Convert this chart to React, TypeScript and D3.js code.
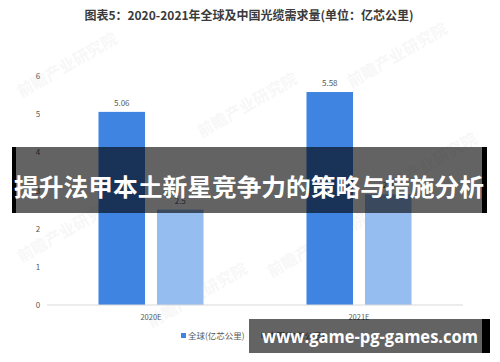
import * as React from 'react';
import * as d3 from 'd3';

// data
const categories = ['2020E', '2021E'];
const globalValues = [5.06, 5.58];
const chinaValues = [2.5, 2.9];
const seriesNames = ['全球(亿芯公里)', '中国(亿芯公里)'];
const yTicks = [0, 1, 2, 3, 4, 5, 6];

const title = '图表5：2020-2021年全球及中国光缆需求量(单位：亿芯公里)';
const bannerText = '提升法甲本土新星竞争力的策略与措施分析';
const siteText = 'www.game-pg-games.com';

const width = 500;
const height = 362;
const margin = { top: 76, right: 37, bottom: 57, left: 47 };

const colors = ['#3f84e1', '#95bdf0'];
const font = '"Noto Sans CJK SC", "Noto Sans", sans-serif';

const App = () => {
  const x0 = d3
    .scaleBand<string>()
    .domain(categories)
    .range([margin.left, width - margin.right])
    .paddingInner(0)
    .paddingOuter(0);

  const x1 = d3
    .scaleBand<string>()
    .domain(seriesNames)
    .range([0, x0.bandwidth()])
    .paddingInner(0.205)
    .paddingOuter(0.88);

  const y = d3
    .scaleLinear()
    .domain([0, 6])
    .range([height - margin.bottom, margin.top]);

  const series = [globalValues, chinaValues];

  return (
    <div style={{ position: 'absolute', left: 0, top: 0 }}>
      <svg width={width} height={height} style={{ display: 'block', background: '#fff' }}>
        <text
          x={249}
          y={20}
          textAnchor="middle"
          fontFamily={font}
          fontWeight="bold"
          fontSize={12}
          fill="#3a3a3a"
        >
          {title}
        </text>

        {/* faint watermarks */}
        {[
          [70, 70],
          [250, 110],
          [400, 60],
          [70, 235],
          [320, 250],
          [430, 170],
          [200, 300],
        ].map(([wx, wy], i) => (
          <text
            key={i}
            transform={`translate(${wx},${wy}) rotate(-30)`}
            textAnchor="middle"
            fontFamily={font}
            fontWeight="bold"
            fontSize={16}
            fill="#000"
            opacity={0.028}
          >
            前瞻产业研究院
          </text>
        ))}

        {/* y axis labels */}
        {yTicks.map((t) => (
          <text
            key={t}
            x={38}
            y={y(t) + 3}
            textAnchor="middle"
            fontFamily={font}
            fontSize={8}
            fill="#595959"
          >
            {t}
          </text>
        ))}

        {/* bars */}
        {categories.map((c, ci) => (
          <g key={c} transform={`translate(${x0(c)},0)`}>
            {series.map((vals, si) => (
              <g key={si}>
                <rect
                  x={x1(seriesNames[si])}
                  y={y(vals[ci])}
                  width={x1.bandwidth()}
                  height={y(0) - y(vals[ci])}
                  fill={colors[si]}
                />
                <text
                  x={(x1(seriesNames[si]) as number) + x1.bandwidth() / 2}
                  y={y(vals[ci]) - 6}
                  textAnchor="middle"
                  fontFamily={font}
                  fontSize={8}
                  fill="#595959"
                >
                  {vals[ci]}
                </text>
              </g>
            ))}
            <text
              x={x0.bandwidth() / 2}
              y={y(0) + 15}
              textAnchor="middle"
              fontFamily={font}
              fontSize={7.5}
              fill="#595959"
            >
              {c}
            </text>
          </g>
        ))}

        {/* baseline */}
        <line
          x1={margin.left}
          x2={width - margin.right}
          y1={y(0)}
          y2={y(0)}
          stroke="#d9d9d9"
          strokeWidth={1}
        />

        {/* legend */}
        {seriesNames.map((s, i) => (
          <g key={s} transform={`translate(${181 + i * 80},337)`}>
            <rect x={0} y={-4} width={5} height={5} fill={colors[i]} />
            <text x={7} y={1.5} fontFamily={font} fontSize={8.5} fill="#595959">
              {s}
            </text>
          </g>
        ))}

        {/* overlay banners */}
        <rect x={12} y={147} width={475} height={66} fill="#000" opacity={0.61} />
        <rect x={12} y={147} width={4} height={66} fill="#000" />
        <rect x={482} y={147} width={5} height={66} fill="#000" />
        <text
          x={14}
          y={196}
          fontFamily={font}
          fontWeight="bold"
          fontSize={24}
          textLength={470}
          lengthAdjust="spacingAndGlyphs"
          fill="#fff"
        >
          {bannerText}
        </text>

        <rect x={249} y={319} width={241} height={34} fill="#000" opacity={0.61} />
        <rect x={482} y={319} width={8} height={34} fill="#000" />
        <text
          x={262}
          y={343}
          fontFamily='"Open Sans", "DejaVu Sans", sans-serif'
          fontWeight="bold"
          fontSize={18}
          textLength={216}
          lengthAdjust="spacingAndGlyphs"
          fill="#fff"
        >
          {siteText}
        </text>
      </svg>
    </div>
  );
};

export default App;
